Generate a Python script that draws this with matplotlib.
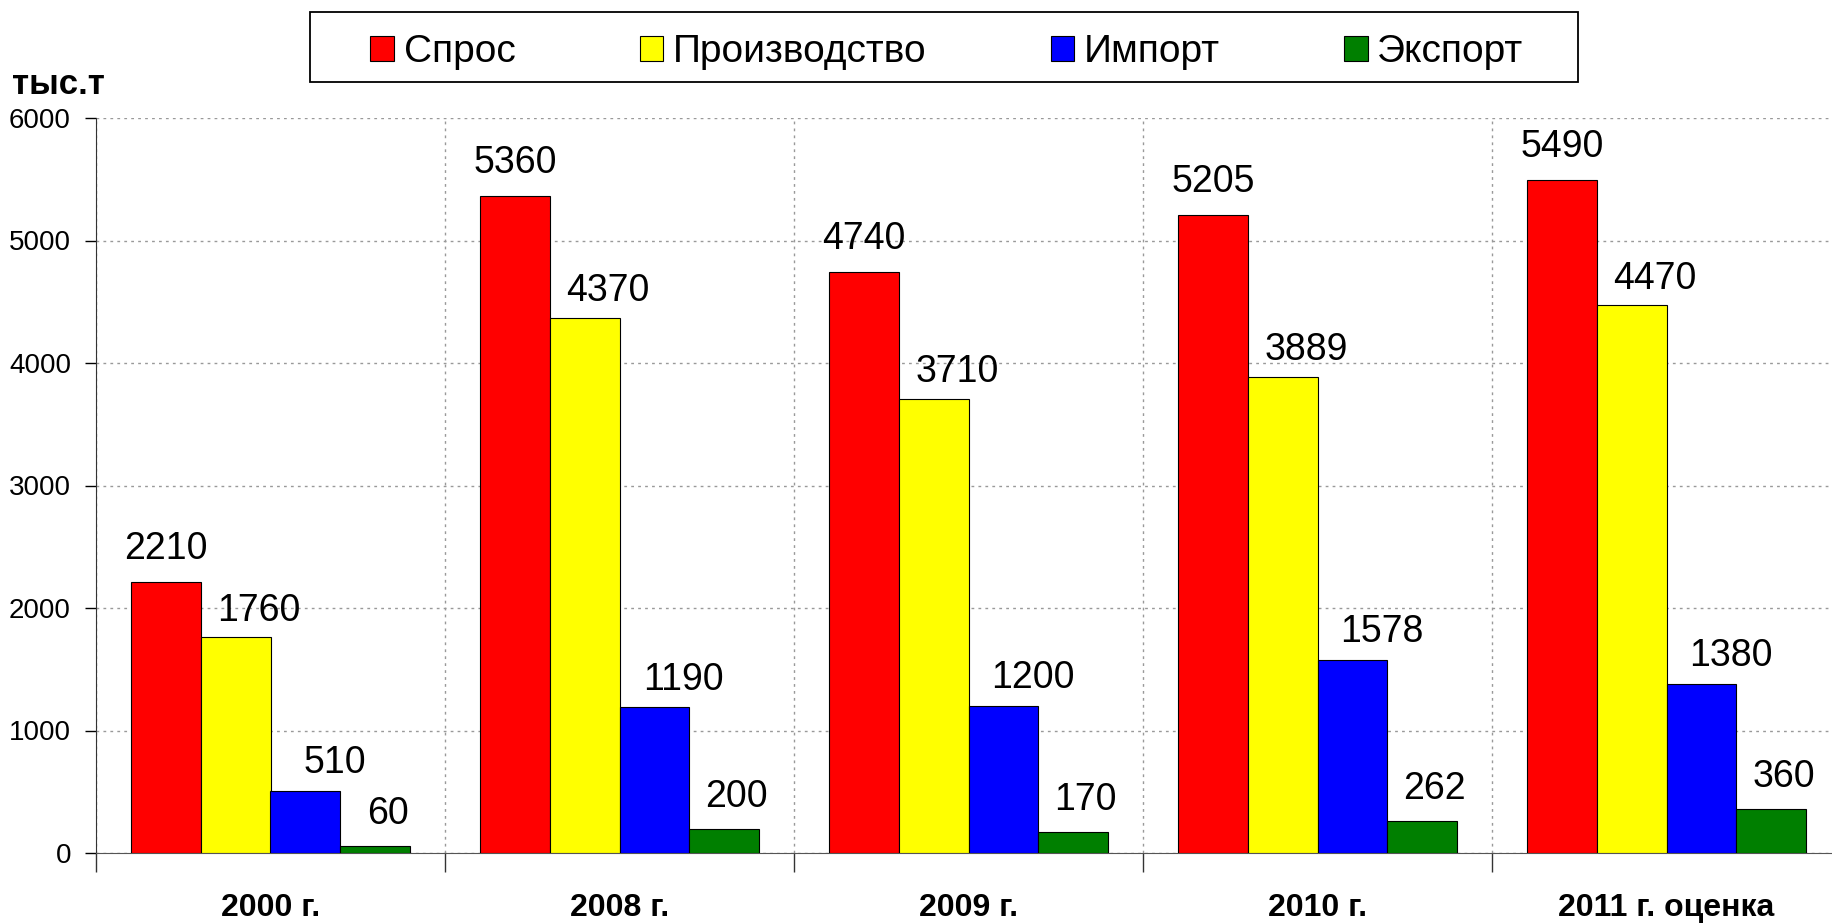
import matplotlib
matplotlib.use("Agg")
from matplotlib import pyplot as plt
from matplotlib.patches import Rectangle
import numpy as np

plt.rcParams['font.family'] = ['Liberation Sans', 'DejaVu Sans']

# data
years = ["2000 г.", "2008 г.", "2009 г.", "2010 г.", "2011 г. оценка"]
series_names = ["Спрос", "Производство", "Импорт", "Экспорт"]
demand = [2210, 5360, 4740, 5205, 5490]
production = [1760, 4370, 3710, 3889, 4470]
imports = [510, 1190, 1200, 1578, 1380]
exports = [60, 200, 170, 262, 360]
y_ticks = [0, 1000, 2000, 3000, 4000, 5000, 6000]

colors = ["#FF0000", "#FFFF00", "#0000FF", "#007F00"]
# label offsets (points) per series, the labels sit a bit to the right
label_dx = [0, 17, 21, 9]
label_dy = [11, 6, 7, 10]

W, H = 1833, 923
fig = plt.figure(figsize=(W / 100, H / 100), dpi=100)
# axes right edge runs a bit past the picture, as in the reference
ax = fig.add_axes([96 / W, 1 - 853 / H, (1841 - 96) / W, (853 - 118) / H])

centers = np.arange(len(years)) + 0.5
bw = 0.2
all_series = [demand, production, imports, exports]
for i, (name, vals) in enumerate(zip(series_names, all_series)):
  xs = centers + (i - 1.5) * bw
  ax.bar(xs, vals, width=bw, color=colors[i], edgecolor="black",
         linewidth=0.8, label=name, zorder=3)
  for x, v in zip(xs, vals):
    ax.annotate(str(v), (x, v), xytext=(label_dx[i], label_dy[i]), textcoords="offset points",
                ha="center", va="bottom", fontsize=27)

ax.set_xlim(0, len(years))
ax.set_ylim(0, 6000)
ax.set_yticks(y_ticks)
ax.tick_params(axis="y", labelsize=20, length=8, width=1, pad=10)

# boundaries as major ticks (marks + grid), names as minor ticks
ax.set_xticks(np.arange(len(years) + 1))
ax.set_xticklabels([])
ax.tick_params(axis="x", which="major", direction="out", length=14, width=1, colors="#333333")
ax.set_xticks(centers, minor=True)
ax.set_xticklabels(years, minor=True, fontsize=23, fontweight="bold")
ax.tick_params(axis="x", which="minor", length=0, pad=29)

ax.grid(True, axis="y", linestyle=(0, (2, 3)), color="#999999", linewidth=1, zorder=0)
ax.grid(True, axis="x", which="major", linestyle=(0, (2, 3)), color="#999999", linewidth=1, zorder=0)

ax.spines["top"].set_visible(False)
ax.spines["right"].set_visible(False)
ax.spines["left"].set_color("#333333")
ax.spines["bottom"].set_color("#555555")

fig.text(12 / W, 1 - 84 / H, "тыс.т", fontsize=25, fontweight="bold", va="center", ha="left")

# legend box drawn separately, legend itself without frame
fig.patches.append(Rectangle((310 / W, 1 - 82 / H), (1578 - 310) / W, 70 / H,
                             transform=fig.transFigure, facecolor="white",
                             edgecolor="black", linewidth=1.3))
leg = fig.legend(loc="center", ncol=4, bbox_to_anchor=(947 / W, 1 - 52 / H),
                 fontsize=28, frameon=False,
                 handlelength=0.6, handleheight=0.6, handletextpad=0.25,
                 columnspacing=3.2, borderaxespad=0, borderpad=0)

fig.savefig("out.png", dpi=100)
